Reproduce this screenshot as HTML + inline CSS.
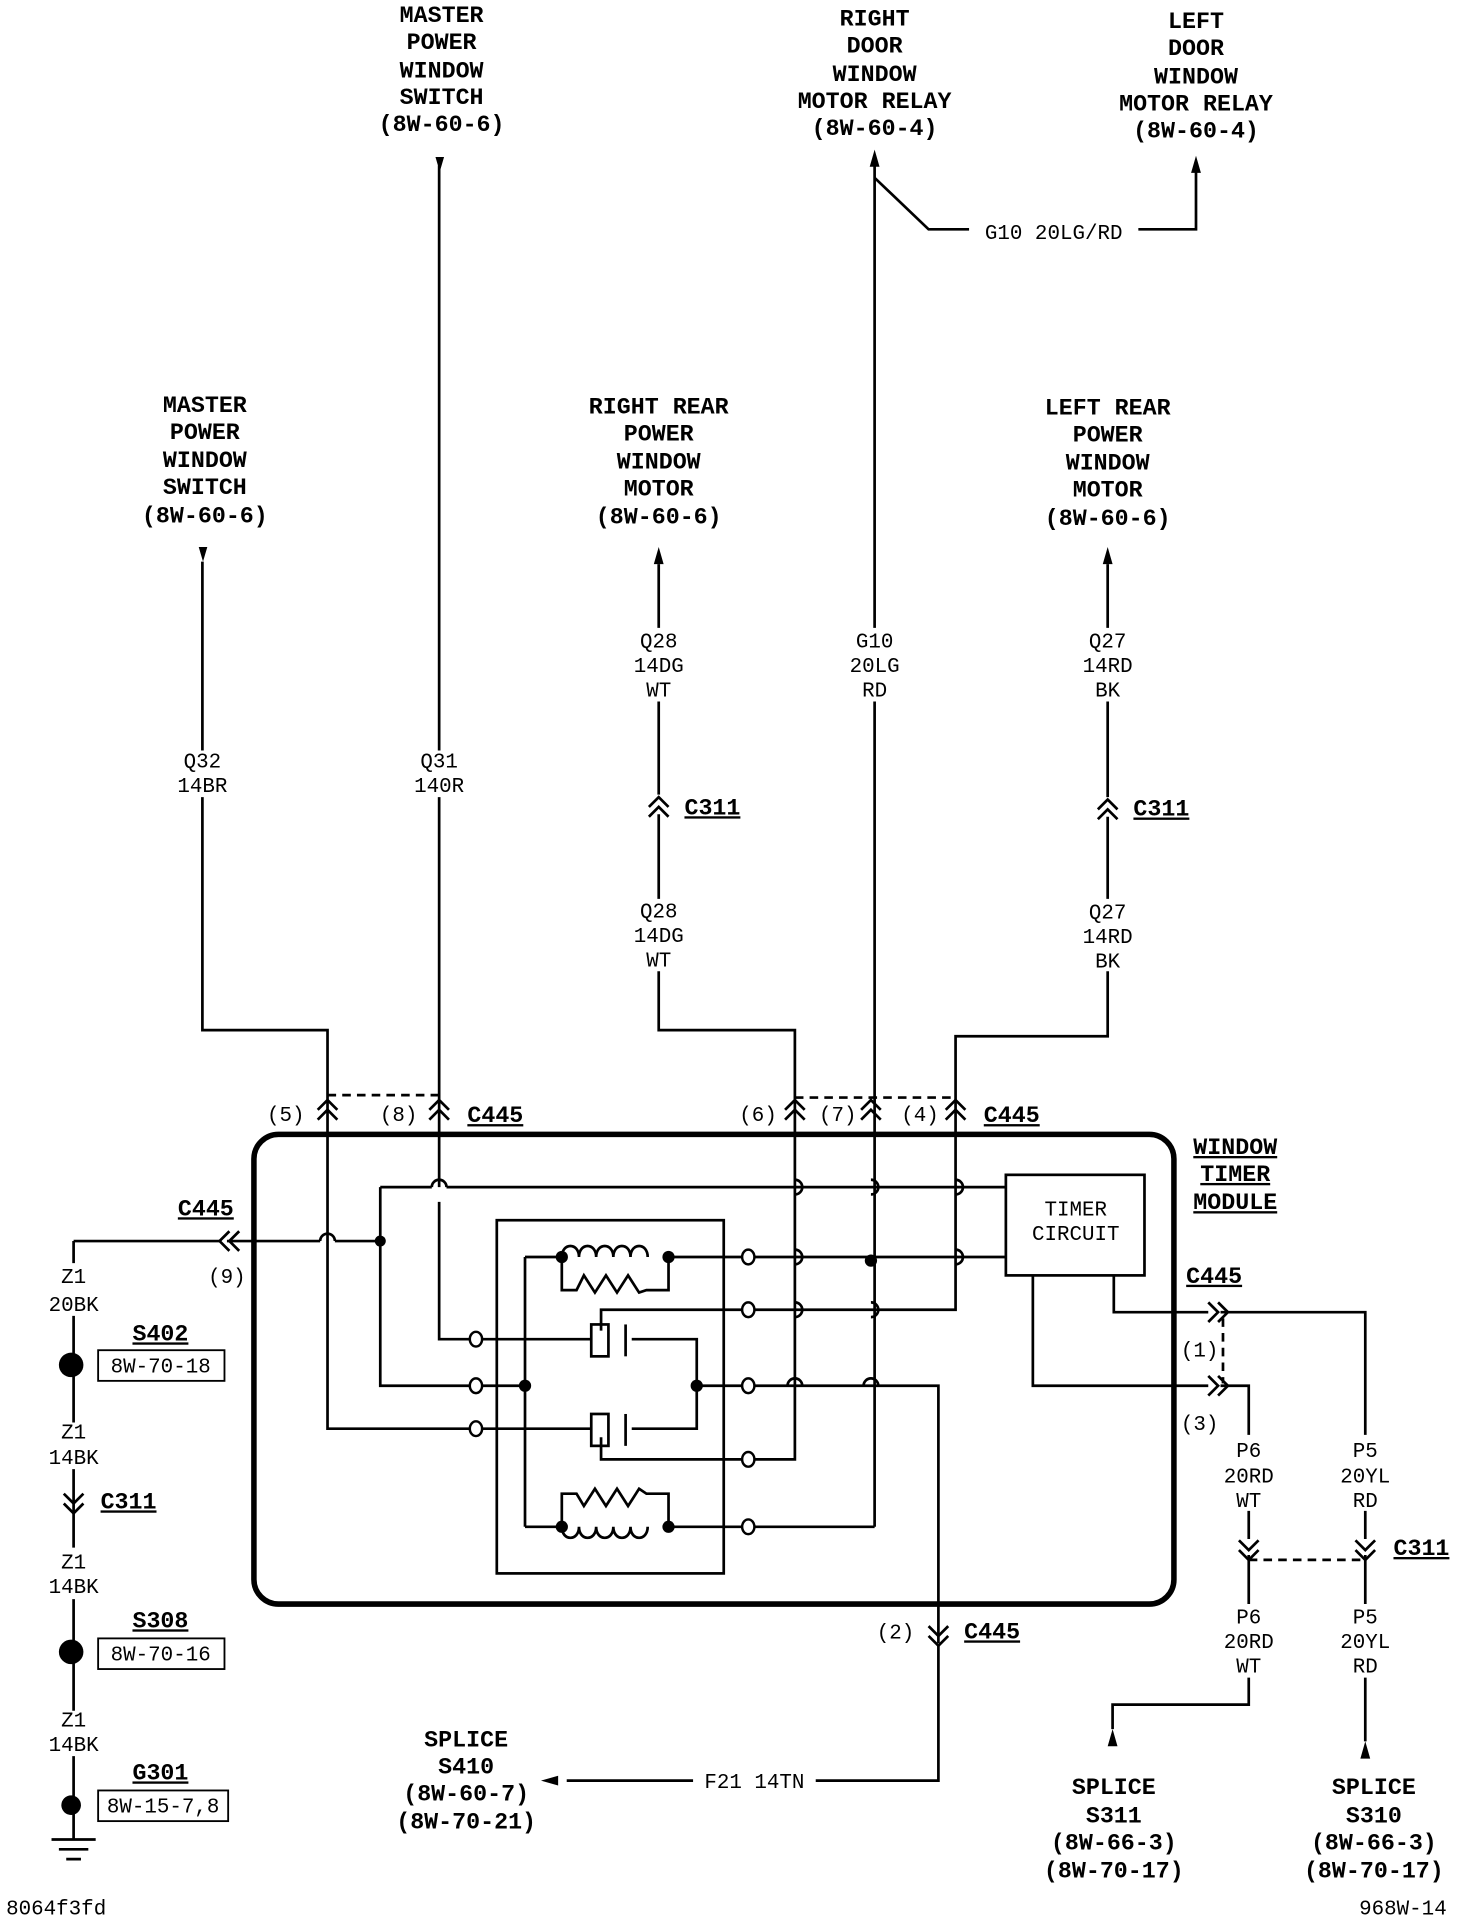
<!DOCTYPE html>
<html><head><meta charset="utf-8"><style>
html,body{margin:0;padding:0;background:#fff}
svg{display:block}
text{font-family:"Liberation Mono",monospace;fill:#000}
.b{font-weight:bold;font-size:19px}
.r{font-size:17px}
</style></head><body>
<svg width="1472" height="1918" viewBox="0 0 1200 1564" preserveAspectRatio="none" xmlns="http://www.w3.org/2000/svg">
<g fill="none" stroke="#000" stroke-width="2.2">
<path d="M358 135V612 M358 650V968 M358 980V1092H383"/>
<path d="M713 135V512 M713 572V1245"/>
<path d="M713 145L757 187H790 M928 187H975V140"/>
<path d="M165 458V612 M165 650V840H267V1165H383"/>
<path d="M537 460V512 M537 572V648 M537 664V733 M537 792V840H648V1190H615"/>
<path d="M903 460V512 M903 572V650 M903 666V733 M903 792V845H779V1068H615"/>
<path d="M267 893H358 M648 895H779 M997 1075V1128 M1018 1272H1113" stroke-dasharray="7,5"/>
<rect x="207" y="925" width="750" height="383" rx="20" stroke-width="4.5"/>
<rect x="405" y="995" width="185" height="288"/>
<rect x="820" y="958" width="113" height="82"/>
<path d="M310 968H352 M364 968H820"/>
<path d="M60 1012H180 M185 1012H261 M273 1012H310 M310 968V1130H383"/>
<path d="M428 1025V1245 M428 1025H458 M428 1245H458 M393 1130H428"/>
<path d="M545 1025H605 M615 1025H820"/>
<path d="M393 1092H482 M515 1092H568V1165H515 M393 1165H482"/>
<path d="M490 1085V1068H605 M490 1172V1190H605"/>
<path d="M568 1130H605 M615 1130H765V1340 M765 1342V1452H665 M565 1452H462"/>
<path d="M545 1245H605 M615 1245H713"/>
<path d="M908 1040V1070H985 M995 1070H1113V1170 M1113 1232V1255 M1113 1268V1308 M1113 1368V1420"/>
<path d="M842 1040V1130H985 M995 1130H1018V1170 M1018 1232V1255 M1018 1268V1308 M1018 1368V1390H907V1410"/>
<path d="M60 1012V1030 M60 1073V1160 M60 1198V1262 M60 1304V1395 M60 1432V1500"/>
<path d="M42 1500H78 M48 1508H72 M54 1516H66"/>
<path d="M458 1025c0-12 14-12 14 0c0-12 14-12 14 0c0-12 14-12 14 0c0-12 14-12 14 0c0-12 14-12 14 0"/>
<path d="M458 1025V1052H470l6-12 9 14 9-14 9 14 9-14 9 14 6-2H545V1025"/>
<path d="M458 1245c0 12 14 12 14 0c0 12 14 12 14 0c0 12 14 12 14 0c0 12 14 12 14 0c0 12 14 12 14 0"/>
<path d="M458 1245V1218H470l6 10 9-14 9 14 9-14 9 14 9-14 6 4H545V1245"/>
<rect x="482" y="1080" width="14" height="26"/><path d="M510 1080V1106"/>
<rect x="482" y="1153" width="14" height="26"/><path d="M510 1153V1179"/>
<path d="M259 905l8-8 8 8M259 913l8-8 8 8 M350 905l8-8 8 8M350 913l8-8 8 8 M640 905l8-8 8 8M640 913l8-8 8 8 M702 905l8-8 8 8M702 913l8-8 8 8 M771 905l8-8 8 8M771 913l8-8 8 8 M529 658l8-8 8 8M529 666l8-8 8 8 M895 660l8-8 8 8M895 668l8-8 8 8"/>
<path d="M52 1218l8 8 8-8M52 1226l8 8 8-8 M757 1326l8 8 8-8M757 1334l8 8 8-8 M1010 1256l8 8 8-8M1010 1264l8 8 8-8 M1105 1256l8 8 8-8M1105 1264l8 8 8-8"/>
<path d="M187 1004l-8 8 8 8M195 1004l-8 8 8 8 M985 1062l8 8-8 8M993 1062l8 8-8 8 M985 1122l8 8-8 8M993 1122l8 8-8 8"/>
<rect x="80" y="1101" width="103" height="25" stroke-width="1.5"/>
<rect x="80" y="1336" width="103" height="25" stroke-width="1.5"/>
<rect x="80" y="1460" width="106" height="25" stroke-width="1.5"/>
</g>
<g fill="none" stroke="#000" stroke-width="2.2">
<path d="M352 968a6 6 0 0 1 12 0"/>
<path d="M261 1012a6 6 0 0 1 12 0"/>
<path d="M648 962a6 6 0 0 1 0 12 M710 962a6 6 0 0 1 0 12 M779 962a6 6 0 0 1 0 12"/>
<path d="M648 1019a6 6 0 0 1 0 12 M779 1019a6 6 0 0 1 0 12 M648 1062a6 6 0 0 1 0 12 M710 1062a6 6 0 0 1 0 12"/>
<path d="M642 1130a6 6 0 0 1 12 0 M704 1130a6 6 0 0 1 12 0"/>
</g>
<g fill="#000">
<circle cx="310" cy="1012" r="4.5"/><circle cx="458" cy="1025" r="5"/><circle cx="545" cy="1025" r="5"/>
<circle cx="710" cy="1028" r="5"/><circle cx="428" cy="1130" r="5"/><circle cx="568" cy="1130" r="5"/>
<circle cx="458" cy="1245" r="5"/><circle cx="545" cy="1245" r="5"/>
<circle cx="58" cy="1113" r="10"/><circle cx="58" cy="1347" r="10"/><circle cx="58" cy="1472" r="8"/>
<path d="M355 128h7l-3.5 12z M162 446h7l-3.5 12z M709 136h8l-4-14z M971 141h8l-4-14z M533 460h8l-4-14z M899 460h8l-4-14z M903 1424h8l-4-14z M1109 1434h8l-4-14z M455 1448v8l-14-4z"/>
</g>
<g fill="#fff" stroke="#000" stroke-width="2">
<ellipse cx="388" cy="1092" rx="5" ry="6"/><ellipse cx="388" cy="1130" rx="5" ry="6"/><ellipse cx="388" cy="1165" rx="5" ry="6"/>
<ellipse cx="610" cy="1025" rx="5" ry="6"/><ellipse cx="610" cy="1068" rx="5" ry="6"/><ellipse cx="610" cy="1130" rx="5" ry="6"/><ellipse cx="610" cy="1190" rx="5" ry="6"/><ellipse cx="610" cy="1245" rx="5" ry="6"/>
</g>
<g class="b" text-anchor="middle">
<text x="360" y="18">MASTER</text><text x="360" y="40">POWER</text><text x="360" y="63">WINDOW</text><text x="360" y="85">SWITCH</text><text x="360" y="107">(8W-60-6)</text>
<text x="713" y="21">RIGHT</text><text x="713" y="43">DOOR</text><text x="713" y="66">WINDOW</text><text x="713" y="88">MOTOR RELAY</text><text x="713" y="110">(8W-60-4)</text>
<text x="975" y="23">LEFT</text><text x="975" y="45">DOOR</text><text x="975" y="68">WINDOW</text><text x="975" y="90">MOTOR RELAY</text><text x="975" y="112">(8W-60-4)</text>
<text x="167" y="336">MASTER</text><text x="167" y="358">POWER</text><text x="167" y="381">WINDOW</text><text x="167" y="403">SWITCH</text><text x="167" y="426">(8W-60-6)</text>
<text x="537" y="337">RIGHT REAR</text><text x="537" y="359">POWER</text><text x="537" y="382">WINDOW</text><text x="537" y="404">MOTOR</text><text x="537" y="427">(8W-60-6)</text>
<text x="903" y="338">LEFT REAR</text><text x="903" y="360">POWER</text><text x="903" y="383">WINDOW</text><text x="903" y="405">MOTOR</text><text x="903" y="428">(8W-60-6)</text>
<text x="1007" y="941" text-decoration="underline">WINDOW</text><text x="1007" y="963" text-decoration="underline">TIMER</text><text x="1007" y="986" text-decoration="underline">MODULE</text>
<text x="380" y="1424">SPLICE</text><text x="380" y="1446">S410</text><text x="380" y="1468">(8W-60-7)</text><text x="380" y="1491">(8W-70-21)</text>
<text x="908" y="1463">SPLICE</text><text x="908" y="1486">S311</text><text x="908" y="1508">(8W-66-3)</text><text x="908" y="1531">(8W-70-17)</text>
<text x="1120" y="1463">SPLICE</text><text x="1120" y="1486">S310</text><text x="1120" y="1508">(8W-66-3)</text><text x="1120" y="1531">(8W-70-17)</text>
</g>
<g class="b" text-decoration="underline">
<text x="381" y="915">C445</text><text x="802" y="915">C445</text><text x="145" y="991">C445</text><text x="967" y="1046">C445</text>
<text x="558" y="664">C311</text><text x="924" y="665">C311</text><text x="82" y="1230">C311</text><text x="1136" y="1268">C311</text>
<text x="786" y="1336">C445</text>
<text x="108" y="1093">S402</text><text x="108" y="1327">S308</text><text x="108" y="1451">G301</text>
</g>
<g class="r" text-anchor="middle">
<text x="165" y="626">Q32</text><text x="165" y="646">14BR</text>
<text x="358" y="626">Q31</text><text x="358" y="646">140R</text>
<text x="537" y="528">Q28</text><text x="537" y="548">14DG</text><text x="537" y="568">WT</text>
<text x="537" y="748">Q28</text><text x="537" y="768">14DG</text><text x="537" y="788">WT</text>
<text x="713" y="528">G10</text><text x="713" y="548">20LG</text><text x="713" y="568">RD</text>
<text x="903" y="528">Q27</text><text x="903" y="548">14RD</text><text x="903" y="568">BK</text>
<text x="903" y="749">Q27</text><text x="903" y="769">14RD</text><text x="903" y="789">BK</text>
<text x="859" y="195">G10 20LG/RD</text>
<text x="233" y="914">(5)</text><text x="325" y="914">(8)</text><text x="618" y="914">(6)</text><text x="683" y="914">(7)</text><text x="750" y="914">(4)</text>
<text x="185" y="1046">(9)</text><text x="978" y="1106">(1)</text><text x="978" y="1166">(3)</text><text x="730" y="1336">(2)</text>
<text x="877" y="991">TIMER</text><text x="877" y="1011">CIRCUIT</text>
<text x="60" y="1046">Z1</text><text x="60" y="1069">20BK</text>
<text x="60" y="1173">Z1</text><text x="60" y="1194">14BK</text>
<text x="60" y="1279">Z1</text><text x="60" y="1299">14BK</text>
<text x="60" y="1408">Z1</text><text x="60" y="1428">14BK</text>
<text x="1018" y="1188">P6</text><text x="1018" y="1209">20RD</text><text x="1018" y="1229">WT</text>
<text x="1113" y="1188">P5</text><text x="1113" y="1209">20YL</text><text x="1113" y="1229">RD</text>
<text x="1018" y="1324">P6</text><text x="1018" y="1344">20RD</text><text x="1018" y="1364">WT</text>
<text x="1113" y="1324">P5</text><text x="1113" y="1344">20YL</text><text x="1113" y="1364">RD</text>
<text x="615" y="1458">F21 14TN</text>
<text x="131" y="1119">8W-70-18</text><text x="131" y="1354">8W-70-16</text><text x="133" y="1478">8W-15-7,8</text>
</g>
<text class="r" x="5" y="1561">8064f3fd</text>
<text class="r" x="1108" y="1561">968W-14</text>
</svg>
</body></html>
